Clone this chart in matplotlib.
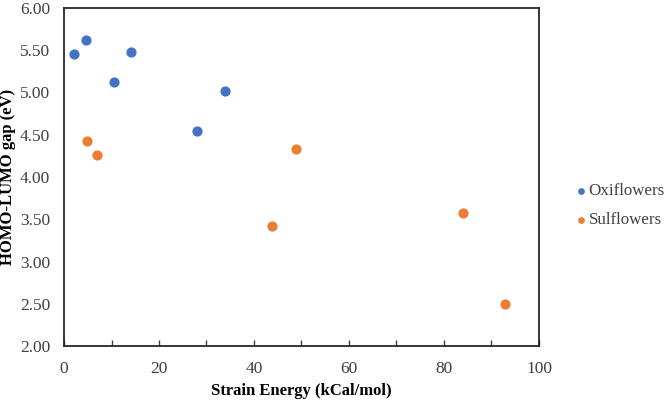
import matplotlib.pyplot as plt
import numpy as np

# 数据
oxi_x = [2.1, 4.6, 14.2, 10.5, 27.9, 33.9]
oxi_y = [5.45, 5.62, 5.48, 5.12, 4.54, 5.02]
sul_x = [4.9, 6.9, 48.8, 43.8, 83.9, 92.9]
sul_y = [4.43, 4.26, 4.33, 3.42, 3.57, 2.50]

plt.rcParams['font.family'] = ['Liberation Serif', 'DejaVu Serif']

fig = plt.figure(figsize=(6.66, 4), dpi=100)
ax = fig.add_axes([0.0961, 0.135, 0.7132, 0.845])

ax.scatter(oxi_x, oxi_y, s=40, color='#4472C4', label='Oxiflowers', zorder=3)
ax.scatter(sul_x, sul_y, s=40, color='#ED7D31', label='Sulflowers', zorder=3)

ax.set_xlim(0, 100)
ax.set_ylim(2.0, 6.0)
ax.set_xticks(np.arange(0, 101, 10))
ax.set_xticklabels([str(v) if v % 20 == 0 else '' for v in range(0, 101, 10)])
ax.set_yticks(np.arange(2.0, 6.01, 0.5))
ax.set_yticklabels([f'{v:.2f}' for v in np.arange(2.0, 6.01, 0.5)])
ax.tick_params(axis='x', direction='in', length=4, width=1, colors='#404040',
               labelsize=12.5, labelcolor='#404040', pad=11)
ax.tick_params(axis='y', length=0, labelsize=12.5, labelcolor='#404040', pad=10)

for sp in ax.spines.values():
    sp.set_color('#262626')
    sp.set_linewidth(1.3)

ax.set_xlabel('Strain Energy (kCal/mol)', fontsize=12, fontweight='bold', labelpad=4)
ax.set_ylabel('HOMO-LUMO gap (eV)', fontsize=12, fontweight='bold', labelpad=3)

ax.legend(loc='center left', bbox_to_anchor=(1.06, 0.415), frameon=False,
          fontsize=12.2, labelcolor='#404040', handletextpad=0.05, handlelength=0.8,
          markerscale=0.6, borderaxespad=0.0, labelspacing=0.75)

plt.savefig('out.png', dpi=100)
plt.close()
